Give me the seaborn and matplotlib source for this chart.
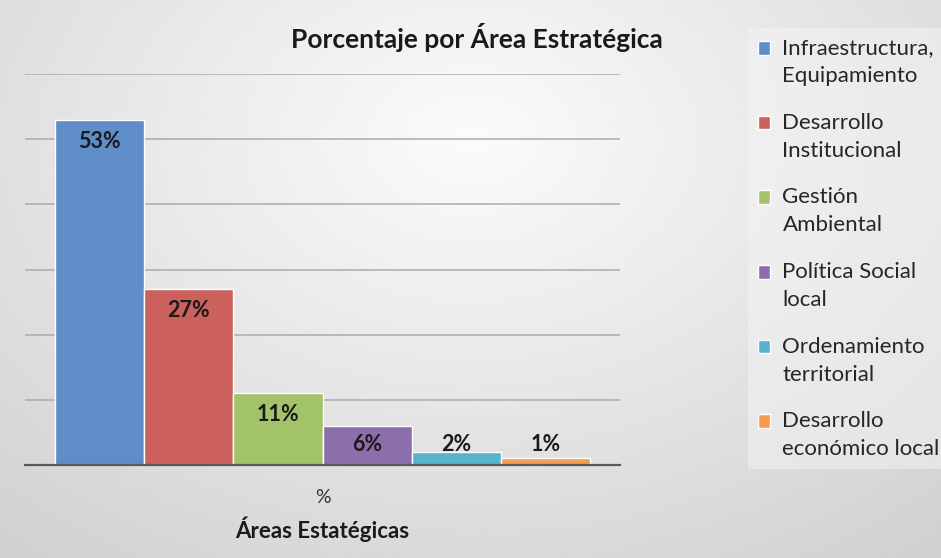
"""Porcentaje por Área Estratégica - bar chart recreation."""

import matplotlib

matplotlib.use("Agg")

import matplotlib.pyplot as plt
import numpy as np
import pandas as pd
import seaborn as sns
from matplotlib.legend_handler import HandlerPatch
from matplotlib.patches import Rectangle

areas = [
    "Infraestructura,\nEquipamiento",
    "Desarrollo\nInstitucional",
    "Gestión\nAmbiental",
    "Política Social\nlocal",
    "Ordenamiento\nterritorial",
    "Desarrollo\neconómico local",
]
percentages = [53, 27, 11, 6, 2, 1]
category = ["%"] * len(areas)
colors = ["#5F8DC7", "#CB605D", "#A3C36A", "#8D6EAD", "#55B3CB", "#F59B52"]

df = pd.DataFrame({"categoria": category, "area": areas, "valor": percentages})

sns.set_style("white")
plt.rcParams["font.family"] = ["Lato", "DejaVu Sans"]

fig = plt.figure(figsize=(9.41, 5.58), dpi=100)

# soft radial background like the office chart area
bg = fig.add_axes([0, 0, 1, 1], zorder=-10)
yy, xx = np.mgrid[0:1:300j, 0:1:500j]
r = np.sqrt(((xx - 0.5) / 0.75) ** 2 + ((yy - 0.25) / 0.9) ** 2)
bg.imshow(0.985 - 0.16 * np.clip(r, 0, 1.2), cmap="gray", vmin=0, vmax=1,
          aspect="auto", extent=[0, 1, 1, 0])
bg.set_axis_off()

ax = fig.add_axes([25 / 941, 93 / 558, 595 / 941, 391 / 558])
ax.patch.set_alpha(0)

sns.barplot(data=df, x="categoria", y="valor", hue="area", palette=colors,
            width=0.9, edgecolor="white", linewidth=1, saturation=1, ax=ax)

ax.set_ylim(0, 60)
ax.set_yticks(range(10, 61, 10))
ax.yaxis.grid(True, color="#ababab", linewidth=1.1)
ax.set_axisbelow(True)
ax.tick_params(axis="y", left=False, labelleft=False)
ax.tick_params(axis="x", length=0, pad=17, labelsize=14, labelcolor="#333333")
for side in ["top", "right", "left"]:
    ax.spines[side].set_visible(False)
ax.spines["bottom"].set_color("#595959")
ax.spines["bottom"].set_linewidth(1.6)
ax.set_ylabel("")
ax.set_xlabel("Áreas Estatégicas", fontsize=16, fontweight="bold",
              labelpad=8, color="#1a1a1a")

for container, value in zip(ax.containers, percentages):
    bar = container.patches[0]
    ypos = max(value - 3.3, 3.1)
    ax.text(bar.get_x() + bar.get_width() / 2, ypos, f"{value}%",
            ha="center", va="center", fontsize=15.5, fontweight="bold",
            color="#1a1a1a")

fig.text(477 / 941, 520 / 558, "Porcentaje por Área Estratégica",
         ha="center", va="center", fontsize=19, fontweight="bold",
         color="#1a1a1a")

LEGEND_SIZE = 16
LINE_SPACING = 1.5


def _square(legend, orig_handle, xdescent, ydescent, width, height, fontsize):
    # put the square next to the first line of the two-line label
    shift = 0.5 * LINE_SPACING * 0.86 * fontsize
    return Rectangle((-xdescent, -ydescent + shift), width, height)


handles, labels = ax.get_legend_handles_labels()
leg = ax.legend(handles, labels, loc="upper left",
                bbox_to_anchor=(748 / 941, 530 / 558),
                bbox_transform=fig.transFigure, fontsize=LEGEND_SIZE,
                handlelength=0.55, handleheight=0.55, handletextpad=0.55,
                labelspacing=1.2, frameon=True, fancybox=False,
                borderpad=0.45, borderaxespad=0,
                handler_map={Rectangle: HandlerPatch(patch_func=_square)})
leg.get_frame().set_facecolor("#f4f4f4")
leg.get_frame().set_alpha(0.5)
leg.get_frame().set_edgecolor("none")
for text in leg.get_texts():
    text.set_linespacing(LINE_SPACING)
    text.set_color("#262626")

fig.savefig("out.png", dpi=100)
